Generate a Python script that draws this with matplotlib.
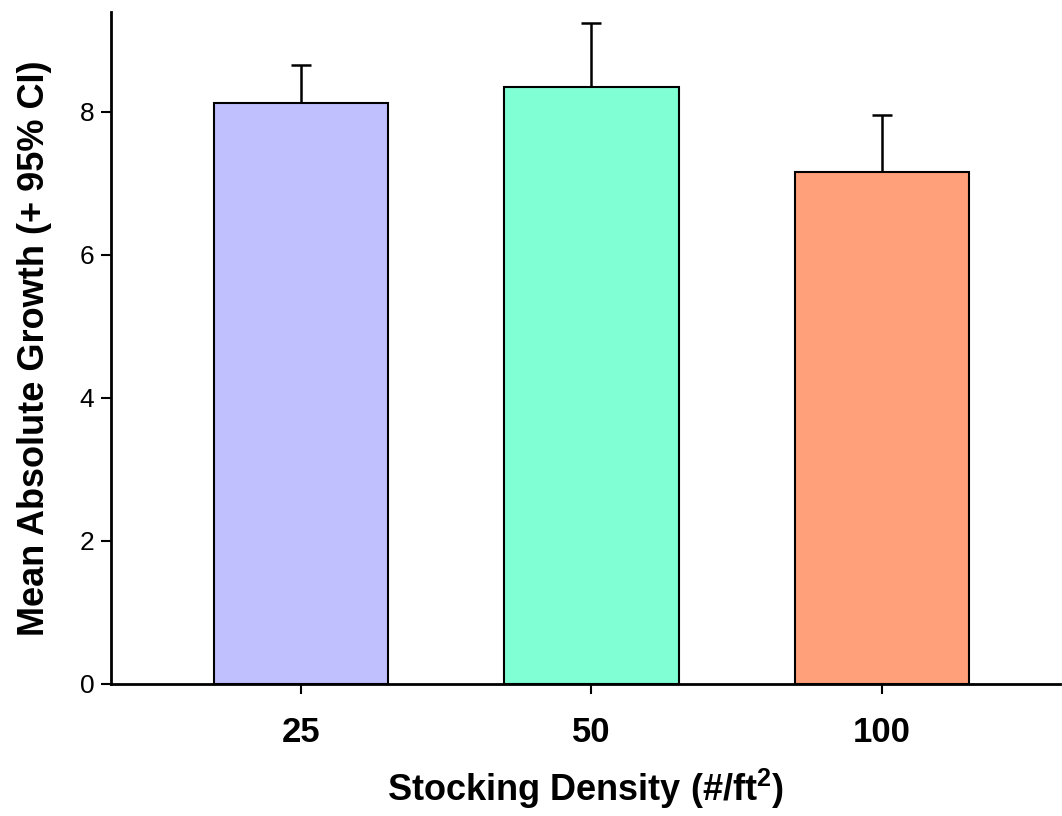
import numpy as np
import matplotlib
matplotlib.use('Agg')
import matplotlib.pyplot as plt

plt.rcParams['font.family'] = ['Liberation Sans', 'DejaVu Sans']
plt.rcParams['mathtext.fontset'] = 'custom'
plt.rcParams['mathtext.rm'] = 'Liberation Sans'
plt.rcParams['mathtext.bf'] = 'Liberation Sans:bold'

# ── Data ──────────────────────────────────────────────────────
densities = ['25', '50', '100']
mean_growth = [8.13, 8.35, 7.16]
ci_upper = [0.53, 0.89, 0.79]
bar_colors = ['#c0c0ff', '#80ffd4', '#ffa07a']

# ── Plot ──────────────────────────────────────────────────────
fig = plt.figure(figsize=(10.62, 8.16), dpi=100)
ax = fig.add_axes([0.1045, 0.1618, 0.8935, 0.8239])

x = np.arange(len(densities))
ax.bar(x, mean_growth, width=0.6, color=bar_colors,
       edgecolor='black', linewidth=1.5, zorder=2)
ax.errorbar(x, mean_growth, yerr=[np.zeros(len(x)), ci_upper], fmt='none',
            ecolor='black', elinewidth=1.8, capsize=7.2, capthick=1.8, zorder=1)

ax.set_xlim(-0.654, 2.613)
ax.set_ylim(0, 9.40)
ax.set_yticks([0, 2, 4, 6, 8])
ax.set_xticks(x)
ax.set_xticklabels(densities, fontsize=25, fontweight='bold')
ax.tick_params(axis='y', labelsize=19, length=7, width=1.5, pad=5)
ax.tick_params(axis='x', length=7, width=1.5, pad=16)

for side in ['top', 'right']:
    ax.spines[side].set_visible(False)
for side in ['left', 'bottom']:
    ax.spines[side].set_linewidth(2)

ax.set_xlabel(r'Stocking Density (#/ft$^{\mathbf{2}}$)', fontsize=26,
              fontweight='bold', labelpad=13)
ax.set_ylabel('Mean Absolute Growth (+ 95% CI)', fontsize=26,
              fontweight='bold', labelpad=20)

fig.savefig('out.png', dpi=100)
plt.close()
